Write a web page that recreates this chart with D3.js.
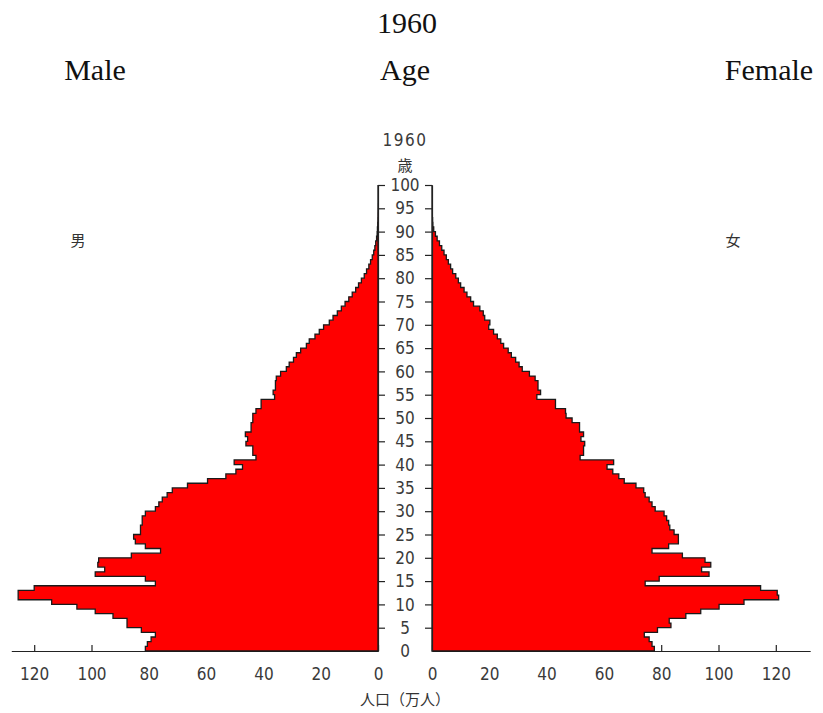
<!DOCTYPE html>
<html>
<head>
<meta charset="utf-8">
<script src="https://cdn.jsdelivr.net/npm/d3@7"></script>
<style>
  body { margin: 0; background: #fff; }
  .head { font-family: "Liberation Serif", "DejaVu Serif", serif; font-size: 30px; fill: #111; text-anchor: middle; }
  .jp { font-family: "Noto Sans CJK JP", sans-serif; font-size: 15px; fill: #333; text-anchor: middle; }
  .num { font-family: "Liberation Sans Narrow", "Arial Narrow", "DejaVu Sans Condensed", sans-serif; font-size: 17px; fill: #3a3a3a; }
  .axis path, .axis line { stroke: #222; stroke-width: 1.2; }
</style>
</head>
<body>
<svg width="823" height="713"></svg>
<script>
// single-year ages 0..99, population in 万人
var ages = d3.range(0, 100);
var male = [81.2, 80.5, 79.2, 77.7, 82.6, 87.6, 87.6, 92.5, 98.7, 105.1,
  113.9, 125.6, 125.6, 120.0, 77.7, 81.2, 98.7, 95.4, 97.8, 97.5,
  86.1, 75.9, 81.2, 84.7, 85.3, 82.9, 82.9, 82.3, 82.3, 81.2,
  77.7, 76.5, 75.3, 73.6, 71.8, 66.5, 59.5, 53.1, 49.6, 47.3,
  50.2, 42.6, 43.7, 43.7, 46.1, 45.5, 46.3, 44.3, 44.3, 43.7,
  43.7, 42.6, 40.8, 40.8, 36.1, 36.6, 35.8, 35.8, 35.5, 34.0,
  32.0, 31.0, 29.5, 28.5, 27.0, 25.0, 24.0, 22.0, 20.5, 19.0,
  17.0, 15.7, 14.2, 12.8, 11.5, 10.2, 9.0, 7.8, 6.8, 5.8,
  4.8, 4.0, 3.2, 2.6, 2.0, 1.5, 1.1, 0.8, 0.5, 0.3,
  0.2, 0.1, 0.05, 0.03, 0.02, 0.01, 0, 0, 0, 0];
var female = [77.6, 76.8, 75.8, 74.1, 78.7, 83.4, 82.8, 88.6, 93.8, 100.2,
  108.9, 121.0, 120.5, 114.7, 74.4, 79.3, 96.7, 94.1, 97.3, 95.3,
  87.4, 76.8, 82.6, 86.0, 86.0, 84.5, 83.0, 82.6, 81.9, 81.0,
  77.9, 76.8, 75.8, 74.4, 73.9, 71.2, 67.1, 65.2, 63.1, 61.1,
  63.4, 51.7, 52.9, 52.9, 53.3, 52.0, 52.9, 51.5, 51.5, 48.9,
  46.8, 46.6, 43.1, 43.1, 36.6, 37.9, 37.0, 37.0, 36.0, 34.0,
  31.5, 30.4, 29.2, 27.7, 26.6, 25.0, 24.0, 22.8, 21.5, 19.8,
  20.2, 18.4, 17.9, 16.7, 14.5, 13.5, 12.2, 11.2, 10.0, 9.2,
  8.3, 7.2, 6.5, 5.7, 5.0, 4.2, 3.4, 2.6, 1.8, 1.2,
  0.6, 0.3, 0.2, 0.1, 0.05, 0.03, 0.02, 0.01, 0, 0];
var ageTicks = [0, 5, 10, 15, 20, 25, 30, 35, 40, 45, 50, 55, 60, 65, 70, 75, 80, 85, 90, 95, 100];
var popTicks = [0, 20, 40, 60, 80, 100, 120];

var svg = d3.select("svg");
svg.append("rect").attr("width", 823).attr("height", 713).attr("fill", "#fff");

// header text
svg.append("text").attr("class", "head").attr("x", 407).attr("y", 33).text("1960");
svg.append("text").attr("class", "head").attr("x", 95).attr("y", 80).text("Male");
svg.append("text").attr("class", "head").attr("x", 405).attr("y", 80).text("Age");
svg.append("text").attr("class", "head").attr("x", 769).attr("y", 80).text("Female");

// scales
var k = 2.865;
var xL = d3.scaleLinear().domain([0, 128]).range([378, 378 - 128 * k]);
var xR = d3.scaleLinear().domain([0, 132]).range([432, 432 + 132 * k]);
var y = d3.scaleLinear().domain([0, 100]).range([651, 185]);

// bottom axes
function bottomAxis(scale) {
  var g = svg.append("g").attr("class", "axis")
    .attr("transform", "translate(0,651)")
    .call(d3.axisBottom(scale).tickValues(popTicks)
      .tickSizeInner(-6).tickSizeOuter(0).tickPadding(17));
  g.selectAll("text").attr("class", "num");
}
bottomAxis(xL);
bottomAxis(xR);

// population shapes
function side(scale, vals) {
  var pts = ages.map(function(a, i) { return [a, vals[i]]; });
  pts.push([ages.length, vals[vals.length - 1]]);
  var area = d3.area()
    .curve(d3.curveStepBefore)
    .y(function(d) { return y(d[0]); })
    .x0(scale(0))
    .x1(function(d) { return scale(d[1]); });
  svg.append("path")
    .datum(pts)
    .attr("d", area)
    .attr("fill", "#ff0000")
    .attr("stroke", "#1a1a1a")
    .attr("stroke-width", 1.3);
}
side(xL, male);
side(xR, female);

// vertical age axes
svg.append("g").attr("class", "axis")
  .attr("transform", "translate(378,0)")
  .call(d3.axisRight(y).tickValues(ageTicks.slice(1)).tickSize(7).tickSizeOuter(0).tickFormat(""));
svg.append("g").attr("class", "axis")
  .attr("transform", "translate(432,0)")
  .call(d3.axisLeft(y).tickValues(ageTicks.slice(1)).tickSize(7).tickSizeOuter(0).tickFormat(""));

svg.selectAll(".agelab")
  .data(ageTicks)
  .enter().append("text")
  .attr("class", "num agelab")
  .attr("x", 405)
  .attr("y", function(d) { return y(d); })
  .attr("dy", "0.36em")
  .attr("text-anchor", "middle")
  .text(function(d) { return d; });

// labels
svg.append("text").attr("class", "num").attr("x", 405).attr("y", 146)
  .attr("text-anchor", "middle").attr("letter-spacing", 1.5).text("1960");
svg.append("text").attr("class", "jp").attr("x", 405).attr("y", 171).text("歳");
svg.append("text").attr("class", "jp").attr("x", 78).attr("y", 246).text("男");
svg.append("text").attr("class", "jp").attr("x", 733).attr("y", 246).text("女");
svg.append("text").attr("class", "jp").attr("x", 405).attr("y", 705).text("人口（万人）");
</script>
</body>
</html>
